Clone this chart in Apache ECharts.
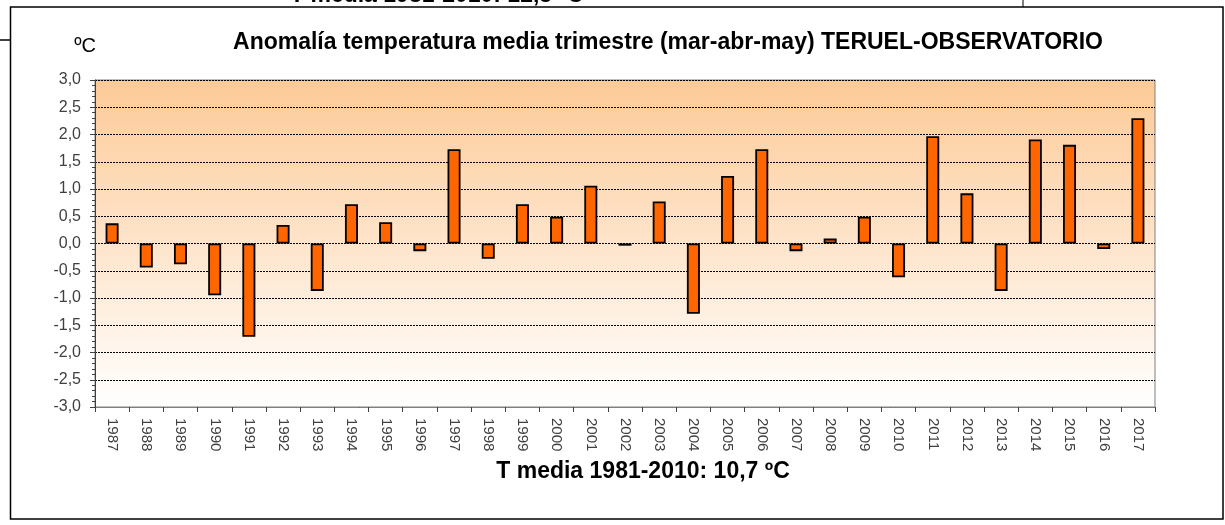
<!DOCTYPE html>
<html>
<head>
<meta charset="utf-8">
<script src="https://cdn.jsdelivr.net/npm/echarts@6/dist/echarts.min.js"></script>
<style>
html,body{margin:0;padding:0;background:#fff;}
#chart{width:1225px;height:525px;}
</style>
</head>
<body>
<div id="chart"></div>
<script>
const years = ['1987','1988','1989','1990','1991','1992','1993','1994','1995','1996','1997','1998','1999','2000','2001','2002','2003','2004','2005','2006','2007','2008','2009','2010','2011','2012','2013','2014','2015','2016','2017'];
const anomalies = [0.37,-0.44,-0.38,-0.95,-1.71,0.34,-0.87,0.72,0.39,-0.14,1.73,-0.28,0.72,0.49,1.06,-0.04,0.77,-1.29,1.24,1.73,-0.14,0.09,0.49,-0.62,1.97,0.92,-0.87,1.91,1.81,-0.10,2.30];
const titleText = 'Anomalía temperatura media trimestre (mar-abr-may) TERUEL-OBSERVATORIO';
const unitText = 'ºC';
const footText = 'T media 1981-2010: 10,7 ºC';
const prevFootText = 'T media 1981-2010: 12,5 ºC';

const chart = echarts.init(document.getElementById('chart'));
const fontFam = '"Liberation Sans", Arial, sans-serif';
chart.setOption({
  animation: false,
  backgroundColor: '#ffffff',
  grid: {
    left: 95, right: 70, top: 80, bottom: 118,
    show: true,
    borderColor: '#808080',
    borderWidth: 1,
    backgroundColor: new echarts.graphic.LinearGradient(0, 0, 0, 1, [
      {offset: 0, color: '#FDCA97'},
      {offset: 1, color: '#FFFFFF'}
    ])
  },
  graphic: [
    {type: 'rect', shape: {x: 10.5, y: 7, width: 1212.5, height: 512}, style: {fill: 'none', stroke: '#000', lineWidth: 1.5}},
    {type: 'line', shape: {x1: 1023, y1: 0, x2: 1023, y2: 7}, style: {stroke: '#000', lineWidth: 1}},
    {type: 'line', shape: {x1: 0, y1: 40, x2: 10, y2: 40}, style: {stroke: '#000', lineWidth: 1.5}},
    {type: 'text', x: 290, y: 7, style: {text: prevFootText, fill: '#000', font: 'bold 23px ' + fontFam, align: 'left', verticalAlign: 'bottom'}},
    {type: 'text', x: 668, y: 43, style: {text: titleText, fill: '#000', font: 'bold 23px ' + fontFam, align: 'center', verticalAlign: 'middle'}},
    {type: 'text', x: 85, y: 46, style: {text: unitText, fill: '#000', font: '20px ' + fontFam, align: 'center', verticalAlign: 'middle'}},
    {type: 'text', x: 643, y: 472, style: {text: footText, fill: '#000', font: 'bold 23px ' + fontFam, align: 'center', verticalAlign: 'middle'}}
  ],
  xAxis: {
    type: 'category',
    data: years,
    boundaryGap: true,
    axisLine: {onZero: false, lineStyle: {color: '#808080', width: 1}},
    axisTick: {show: true, length: 5, lineStyle: {color: '#404040'}},
    axisLabel: {rotate: -90, margin: 11, color: '#404040', fontSize: 15, fontFamily: fontFam, interval: 0}
  },
  yAxis: {
    type: 'value',
    min: -3, max: 3, interval: 0.5,
    axisLine: {show: true, lineStyle: {color: '#404040', width: 1}},
    axisTick: {show: true, length: 5, lineStyle: {color: '#404040'}},
    minorTick: {show: true, splitNumber: 5, length: 3, lineStyle: {color: '#404040'}},
    axisLabel: {color: '#404040', fontSize: 16, fontFamily: fontFam, margin: 14,
      formatter: v => v.toFixed(1).replace('.', ',')},
    splitLine: {show: true, lineStyle: {color: '#000', type: [2, 1], width: 1}}
  },
  series: [{
    type: 'bar',
    data: anomalies,
    barWidth: 13,
    itemStyle: {color: '#FF6600', borderColor: '#000', borderWidth: 1.8}
  }]
});
</script>
</body>
</html>
